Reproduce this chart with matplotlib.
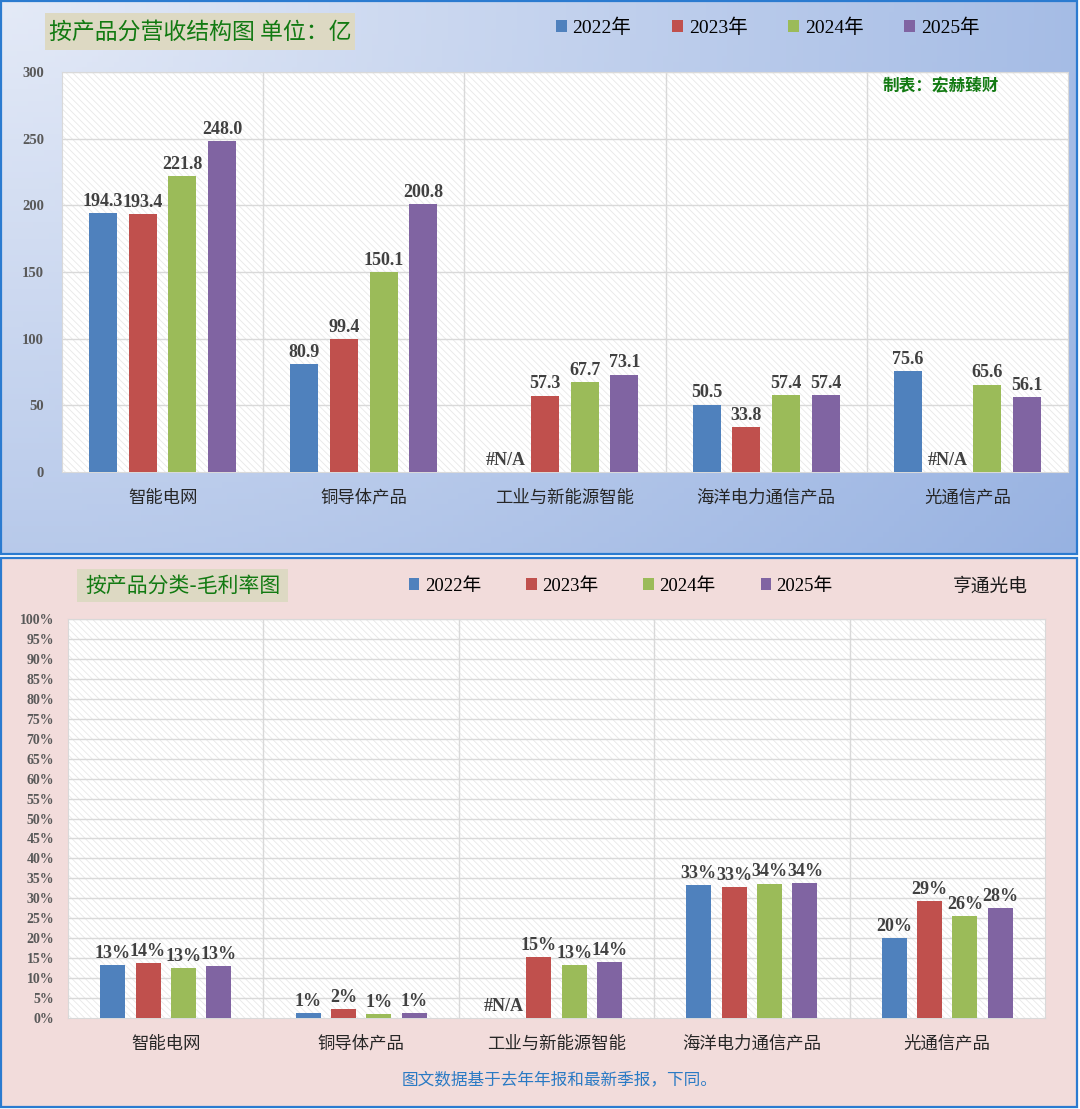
"""
亨通光电 营收结构 / 毛利率 双图
"""

import numpy as np
import matplotlib.pyplot as plt
from matplotlib.patches import Rectangle, Patch

plt.rcParams['font.family'] = ['Liberation Serif', 'Noto Sans CJK SC', 'DejaVu Sans']
plt.rcParams['hatch.linewidth'] = 0.6

# 数据
categories = ['智能电网', '铜导体产品', '工业与新能源智能', '海洋电力通信产品', '光通信产品']
years = ['2022年', '2023年', '2024年', '2025年']
colors = ['#4f81bd', '#c0504d', '#9bbb59', '#8064a2']

revenue = [  # 单位：亿，None 表示 #N/A
    [194.3, 80.9, None, 50.5, 75.6],
    [193.4, 99.4, 57.3, 33.8, None],
    [221.8, 150.1, 67.7, 57.4, 65.6],
    [248.0, 200.8, 73.1, 57.4, 56.1],
]
margin = [  # 毛利率 %
    [13.3, 1.2, None, 33.4, 20.1],
    [13.7, 2.3, 15.2, 32.8, 29.3],
    [12.6, 1.0, 13.3, 33.7, 25.6],
    [13.1, 1.3, 14.0, 33.9, 27.6],
]
rev_ticks = [0, 50, 100, 150, 200, 250, 300]
margin_ticks = list(range(0, 101, 5))

W, H = 1080, 1109
fig = plt.figure(figsize=(W / 100, H / 100), dpi=100)

# 背景层（像素坐标）
bg = fig.add_axes([0, 0, 1, 1], zorder=-10)
bg.set_xlim(0, W)
bg.set_ylim(H, 0)
bg.axis('off')

# 上半部分渐变背景
gx, gy = np.meshgrid(np.linspace(0, 1, 200), np.linspace(0, 1, 100))
t = np.clip(np.sqrt(gx ** 2 * 0.9 + gy ** 2 * 0.45) / 1.18, 0, 1)
c0 = np.array([0xe4, 0xea, 0xf7]) / 255
c1 = np.array([0x96, 0xb1, 0xe1]) / 255
grad = c0 + (c1 - c0) * t[..., None]
bg.imshow(grad, extent=(1, 1077, 554, 1), aspect='auto', zorder=0)
bg.add_patch(Rectangle((1, 1), 1076, 553, fill=False, ec='#2b7bd0', lw=1.6, zorder=1))
bg.add_patch(Rectangle((1, 558), 1076, 549, fc='#f2dcdb', ec='#2b7bd0', lw=1.6, zorder=1))

# 标题框
bg.add_patch(Rectangle((45, 13), 310, 37, fc='#ddd9c3', ec='none', zorder=2))
bg.text(200, 32, '按产品分营收结构图 单位：亿', fontsize=16.5, color='#127a12',
        ha='center', va='center', family=['Noto Sans CJK SC'], zorder=3)
bg.add_patch(Rectangle((77, 569), 211, 33, fc='#ddd9c3', ec='none', zorder=2))
bg.text(183, 586, '按产品分类-毛利率图', fontsize=15, color='#127a12',
        ha='center', va='center', family=['Noto Sans CJK SC'], zorder=3)
bg.text(990, 586, '亨通光电', fontsize=13.5, color='#1a1a1a',
        ha='center', va='center', family=['Noto Sans CJK SC'], zorder=3)
bg.text(560, 1080, '图文数据基于去年年报和最新季报，下同。', fontsize=12, color='#2a7ac4',
        ha='center', va='center', family=['Noto Sans CJK SC'], zorder=3)


def draw_panel(ax, data, ticks, pitch, width, fmt, ymax):
    n = len(categories)
    x = np.arange(n)
    ax.set_xlim(-0.5, n - 0.5)
    ax.set_ylim(0, ymax)
    ax.add_patch(Rectangle((0, 0), 1, 1, transform=ax.transAxes, fc='white',
                           ec='#e8e8e8', hatch='\\' * 5, lw=0, zorder=0))
    for v in ticks[1:]:
        ax.axhline(v, color='#d9d9d9', lw=1, zorder=1)
    for b in range(1, n):
        ax.axvline(b - 0.5, color='#d9d9d9', lw=1, zorder=1)
    for i, series in enumerate(data):
        pos = x + (i - 1.5) * pitch
        vals = [0 if v is None else v for v in series]
        ax.bar(pos, vals, width, color=colors[i], zorder=3)
        for p, v in zip(pos, series):
            if v is None:
                ax.text(p, ymax * 0.008, '#N/A', ha='center', va='bottom', fontsize=13,
                        fontweight='bold', color='#404040', zorder=4)
            else:
                ax.text(p, v + ymax * 0.008, fmt(v), ha='center', va='bottom', fontsize=13,
                        fontweight='bold', color='#404040', zorder=4)
    ax.set_yticks(ticks)
    ax.set_xticks(x)
    ax.set_xticklabels(categories, fontsize=12.5, color='#262626',
                       family=['Noto Sans CJK SC'])
    ax.tick_params(axis='both', length=0)
    ax.tick_params(axis='x', pad=12)
    for s in ax.spines.values():
        s.set_color('#d9d9d9')
    ax.set_facecolor('none')


# 上图：营收
ax1 = fig.add_axes([62 / W, 1 - 472 / H, 1006 / W, 400 / H])
draw_panel(ax1, revenue, rev_ticks, 0.197, 0.139, lambda v: f'{v:.1f}', 300)
ax1.set_yticklabels([str(v) for v in rev_ticks], fontsize=10.5, fontweight='bold', color='#595959')
ax1.tick_params(axis='y', pad=13)
ax1.text(0.874, 0.965, '制表：宏赫臻财', transform=ax1.transAxes, fontsize=12,
         color='#127a12', ha='center', va='center', family=['Noto Sans CJK SC'], fontweight='bold')

# 下图：毛利率
ax2 = fig.add_axes([68 / W, 1 - 1018 / H, 977 / W, 399 / H])
draw_panel(ax2, margin, margin_ticks, 0.181, 0.128, lambda v: f'{v:.0f}%', 100)
ax2.set_yticklabels([f'{v}%' for v in margin_ticks], fontsize=10, fontweight='bold', color='#595959')
ax2.tick_params(axis='y', pad=10)

# 图例
handles = [Patch(fc=c, ec='none') for c in colors]
fig.legend(handles, years, loc='center left', bbox_to_anchor=(556 / W, 1 - 28 / H),
           ncol=4, frameon=False, fontsize=14, handlelength=0.55, handleheight=0.55,
           handletextpad=0.3, columnspacing=2.1, borderpad=0, borderaxespad=0)
fig.legend(handles, years, loc='center left', bbox_to_anchor=(409 / W, 1 - 586 / H),
           ncol=4, frameon=False, fontsize=13.5, handlelength=0.55, handleheight=0.55,
           handletextpad=0.3, columnspacing=2.4, borderpad=0, borderaxespad=0)

fig.savefig('out.png', dpi=100)
